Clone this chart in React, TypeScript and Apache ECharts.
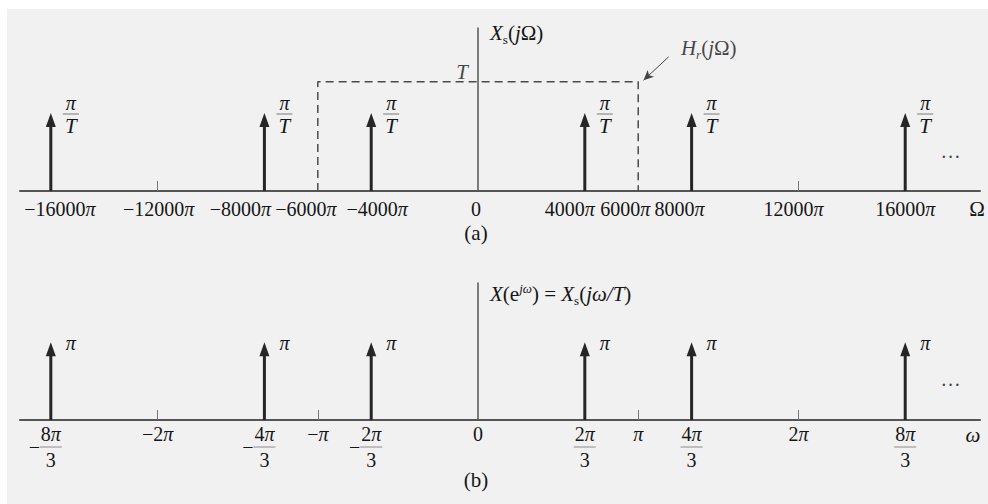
import React, { useEffect, useRef } from "react";
import * as echarts from "echarts";

// Panel (a): Ω axis, values in units of 1000π rad/s
const OMEGA_TICKS = [-16, -12, -8, -6, -4, 0, 4, 6, 8, 12, 16];
const OMEGA_TICK_LABELS = ["−16000π", "−12000π", "−8000π", "−6000π", "−4000π", "0", "4000π", "6000π", "8000π", "12000π", "16000π"];
const OMEGA_MINOR_TICKS = [-12, 12];
const OMEGA_IMPULSES = [-16, -8, -4, 4, 8, 16];
const IMPULSE_HEIGHT_A = 1; // π/T
const HR_CUTOFF = 6; // 6000π
const HR_GAIN = 1.4; // T
const HR_EDGES = [
  [-HR_CUTOFF, 0],
  [-HR_CUTOFF, HR_GAIN],
  [HR_CUTOFF, HR_GAIN],
  [HR_CUTOFF, 0],
];

// Panel (b): ω axis, values in units of π rad
const W_TICKS = [-8 / 3, -2, -4 / 3, -1, -2 / 3, 0, 2 / 3, 1, 4 / 3, 2, 8 / 3];
const W_TICK_LABELS = ["−8π/3", "−2π", "−4π/3", "−π", "−2π/3", "0", "2π/3", "π", "4π/3", "2π", "8π/3"];
const W_MINOR_TICKS = [-2, -1, 1, 2];
const W_IMPULSES = [-8 / 3, -4 / 3, -2 / 3, 2 / 3, 4 / 3, 8 / 3];
const IMPULSE_HEIGHT_B = 1; // π

const INK = "#262626";
const AXIS = "#555555";
const TEXT = "#161616";
const SERIF = '"Liberation Serif", "DejaVu Serif", serif';

// shared horizontal scale: both panels use the same pixel spacing
const A_MIN = -17.154;
const A_MAX = 18.801;
const B_MIN = A_MIN / 6;
const B_MAX = A_MAX / 6;

// horizontal nudges (px) so the crowded Ω labels sit side by side
const OMEGA_LABEL_NUDGE = [9, 1, -24, -12, 6, -2, -15, -13, -12, -5, 0];

function omegaLabel(v: number): string {
  const i = OMEGA_TICKS.findIndex((t) => Math.abs(t - v) < 1e-6);
  if (i < 0) return "";
  const s = OMEGA_TICK_LABELS[i];
  const body = s.endsWith("π") ? `{t|${s.slice(0, -1)}}{tp|π}` : `{t|${s}}`;
  const n = OMEGA_LABEL_NUDGE[i];
  if (n > 0) return `{p${i}| }${body}`;
  if (n < 0) return `${body}{p${i}| }`;
  return body;
}

function omegaNormLabel(v: number): string {
  const i = W_TICKS.findIndex((t) => Math.abs(t - v) < 1e-6);
  if (i < 0) return "";
  let s = W_TICK_LABELS[i];
  const neg = s.startsWith("−");
  if (neg) s = s.slice(1);
  if (s.includes("/")) {
    const [num, den] = s.split("/");
    const digits = num.replace("π", "");
    const top = `{nd|${digits}}{np|π}`;
    if (neg) {
      return [`{sg| }${top}{sg| }`, `{sm|−}{bar| }{sg| }`, `{sg| }{dd|${den}}{sg| }`].join("\n");
    }
    return [top, `{bar| }`, `{dd|${den}}`].join("\n");
  }
  const sign = neg ? "−" : "";
  if (s === "0") return `{t|0}`;
  const digits = s.replace("π", "");
  return `{t|${sign}${digits}}{tp|π}`;
}

const labelRich = (size: number) => {
  const rich: any = {
    t: { fontSize: size, fontFamily: SERIF, color: TEXT, lineHeight: 22 },
    tp: { fontSize: size, fontFamily: SERIF, fontStyle: "italic", color: TEXT, lineHeight: 22 },
    nd: { fontSize: size, fontFamily: SERIF, color: TEXT, lineHeight: 22 },
    np: { fontSize: size, fontFamily: SERIF, fontStyle: "italic", color: TEXT, lineHeight: 22 },
    dd: { fontSize: size, fontFamily: SERIF, color: TEXT, lineHeight: 22 },
    sg: { width: 11, fontSize: 4, lineHeight: 4 },
    sm: { width: 11, fontSize: size, fontFamily: SERIF, color: TEXT, lineHeight: 4, align: "center" },
    bar: { width: 22, height: 1, fontSize: 4, lineHeight: 4, backgroundColor: "#8a8a8a" },
  };
  OMEGA_LABEL_NUDGE.forEach((n, i) => {
    rich[`p${i}`] = { width: Math.abs(n) * 2, fontSize: 4, lineHeight: 22 };
  });
  return rich;
};

const mathRich = (size: number) => ({
  i: { fontFamily: SERIF, fontSize: size, fontStyle: "italic", color: TEXT, lineHeight: size + 4 },
  u: { fontFamily: SERIF, fontSize: size, color: TEXT, lineHeight: size + 4 },
  s: { fontFamily: SERIF, fontSize: Math.round(size * 0.62), color: TEXT, lineHeight: Math.round(size * 0.62), verticalAlign: "bottom" },
  si: { fontFamily: SERIF, fontSize: Math.round(size * 0.62), fontStyle: "italic", color: TEXT, lineHeight: Math.round(size * 0.62), verticalAlign: "bottom" },
  p: { fontFamily: SERIF, fontSize: Math.round(size * 0.62), fontStyle: "italic", color: TEXT, lineHeight: Math.round(size * 0.62), verticalAlign: "top" },
});

function impulseRenderer(kind: "a" | "b") {
  return (_params: any, api: any) => {
    const x = api.value(0);
    const h = api.value(1);
    const [bx, by] = api.coord([x, 0]);
    const [tx, ty] = api.coord([x, h]);
    const children: any[] = [
      { type: "line", shape: { x1: bx, y1: by, x2: tx, y2: ty + 10 }, style: { stroke: INK, lineWidth: 3 } },
      {
        type: "polygon",
        shape: { points: [[tx, ty], [tx - 5, ty + 14], [tx + 5, ty + 14]] },
        style: { fill: INK },
      },
    ];
    const font = { fontFamily: SERIF, fill: TEXT, align: "center", verticalAlign: "middle", fontStyle: "italic" };
    if (kind === "a") {
      children.push(
        { type: "text", x: tx + 20, y: ty - 10, style: { ...font, text: "π", fontSize: 20 } },
        { type: "line", shape: { x1: tx + 12, y1: ty + 1, x2: tx + 28, y2: ty + 1 }, style: { stroke: "#7a7a7a", lineWidth: 1 } },
        { type: "text", x: tx + 20, y: ty + 13, style: { ...font, text: "T", fontSize: 21 } }
      );
    } else {
      children.push({ type: "text", x: tx + 20, y: ty + 1, style: { ...font, text: "π", fontSize: 20 } });
    }
    return { type: "group", children };
  };
}

export default function App() {
  const ref = useRef<HTMLDivElement>(null);

  useEffect(() => {
    if (!ref.current) return;
    const chart = echarts.init(ref.current, null, { renderer: "svg" });

    const option: any = {
      animation: false,
      backgroundColor: "#f1f1f1",
      textStyle: { fontFamily: SERIF, color: TEXT },
      graphic: [
        { type: "rect", shape: { x: 0, y: 0, width: 988, height: 9 }, style: { fill: "#ffffff" }, silent: true },
        { type: "rect", shape: { x: 0, y: 0, width: 7, height: 504 }, style: { fill: "#ffffff" }, silent: true },
        {
          type: "text", x: 476, y: 233,
          style: { text: "(a)", fontFamily: SERIF, fontSize: 21, fill: TEXT, align: "center", verticalAlign: "middle" },
        },
        {
          type: "text", x: 476, y: 480,
          style: { text: "(b)", fontFamily: SERIF, fontSize: 21, fill: TEXT, align: "center", verticalAlign: "middle" },
        },
      ],
      grid: [
        { left: 20, right: 8, top: 28, height: 163, containLabel: false, outerBoundsMode: "none" },
        { left: 20, right: 8, top: 283, height: 137, containLabel: false, outerBoundsMode: "none" },
      ],
      xAxis: [
        {
          type: "value", gridIndex: 0, min: A_MIN, max: A_MAX,
          axisLine: { onZero: true, lineStyle: { color: AXIS, width: 2 } },
          axisTick: { show: true, inside: true, length: 10, customValues: OMEGA_MINOR_TICKS, lineStyle: { color: "#777", width: 1 } },
          axisLabel: {
            customValues: OMEGA_TICKS, formatter: omegaLabel, margin: 7, verticalAlign: "top",
            rich: labelRich(20),
          },
          splitLine: { show: false },
          name: "Ω", nameLocation: "end", nameGap: -3, nameMoveOverlap: false,
          nameTextStyle: { fontFamily: SERIF, fontSize: 21, color: TEXT, align: "center", verticalAlign: "top", padding: [7, 0, 0, 0] },
        },
        {
          type: "value", gridIndex: 1, min: B_MIN, max: B_MAX,
          axisLine: { onZero: true, lineStyle: { color: AXIS, width: 2 } },
          axisTick: { show: true, inside: true, length: 10, customValues: W_MINOR_TICKS, lineStyle: { color: "#777", width: 1 } },
          axisLabel: {
            customValues: W_TICKS, formatter: omegaNormLabel, margin: 3, verticalAlign: "top",
            rich: labelRich(20),
          },
          splitLine: { show: false },
          name: "ω", nameLocation: "end", nameGap: -7, nameMoveOverlap: false,
          nameTextStyle: { fontFamily: SERIF, fontSize: 21, fontStyle: "italic", color: TEXT, align: "center", verticalAlign: "top", padding: [4, 0, 0, 0] },
        },
      ],
      yAxis: [
        {
          type: "value", gridIndex: 0, min: 0, max: 2.09,
          axisLine: { show: true, onZero: true, lineStyle: { color: AXIS, width: 1.5 } },
          axisTick: { show: false },
          axisLabel: { show: false },
          splitLine: { show: false },
          name: "{i|X}{s|s}{u|(}{i|j}{u|Ω)}", nameLocation: "end", nameGap: -5, nameMoveOverlap: false,
          nameTextStyle: { align: "left", verticalAlign: "middle", padding: [0, 0, 0, 12], rich: mathRich(21) },
        },
        {
          type: "value", gridIndex: 1, min: 0, max: 1.76,
          axisLine: { show: true, onZero: true, lineStyle: { color: AXIS, width: 1.5 } },
          axisTick: { show: false },
          axisLabel: { show: false },
          splitLine: { show: false },
          name: "{i|X}{u|(e}{p|jω}{u|) = }{i|X}{s|s}{u|(}{i|jω/T}{u|)}",
          nameLocation: "end", nameGap: -11, nameMoveOverlap: false,
          nameTextStyle: { align: "left", verticalAlign: "middle", padding: [0, 0, 0, 12], rich: mathRich(21) },
        },
      ],
      series: [
        {
          name: "Hr(jΩ)", type: "line", xAxisIndex: 0, yAxisIndex: 0,
          data: HR_EDGES, symbol: "none", silent: true,
          lineStyle: { color: "#4a4a4a", width: 1.5, type: [8, 5] },
          markLine: {
            silent: true, symbol: ["none", "arrow"], symbolSize: [7, 10],
            label: { show: false },
            lineStyle: { type: "solid", color: "#444", width: 1 },
            data: [[{ coord: [7.14, 1.72] }, { coord: [6.2, 1.42] }]],
          },
        },
        {
          name: "Hr label", type: "scatter", xAxisIndex: 0, yAxisIndex: 0,
          data: [[7.6, 1.83]], symbolSize: 0, silent: true,
          label: { show: true, position: "right", distance: 0, formatter: "{i|H}{si|r}{u|(}{i|j}{u|Ω)}", rich: mathRich(21) },
        },
        {
          name: "T level", type: "scatter", xAxisIndex: 0, yAxisIndex: 0,
          data: [[0, HR_GAIN]], symbolSize: 0, silent: true,
          label: {
            show: true, position: "left", distance: 10, offset: [0, -10], formatter: "T",
            fontFamily: SERIF, fontSize: 21, fontStyle: "italic", color: TEXT,
          },
        },
        {
          name: "Xs(jΩ)", type: "custom", xAxisIndex: 0, yAxisIndex: 0, clip: false, silent: true,
          renderItem: impulseRenderer("a"),
          data: OMEGA_IMPULSES.map((w) => [w, IMPULSE_HEIGHT_A]),
        },
        {
          name: "X(e^jω)", type: "custom", xAxisIndex: 1, yAxisIndex: 1, clip: false, silent: true,
          renderItem: impulseRenderer("b"),
          data: W_IMPULSES.map((w) => [w, IMPULSE_HEIGHT_B]),
        },
        {
          name: "continues a", type: "scatter", xAxisIndex: 0, yAxisIndex: 0,
          data: [[17.7, 0.44]], symbolSize: 0, silent: true,
          label: { show: true, position: "inside", formatter: "···", fontFamily: SERIF, fontSize: 20, color: TEXT },
        },
        {
          name: "continues b", type: "scatter", xAxisIndex: 1, yAxisIndex: 1,
          data: [[17.7 / 6, 0.45]], symbolSize: 0, silent: true,
          label: { show: true, position: "inside", formatter: "···", fontFamily: SERIF, fontSize: 20, color: TEXT },
        },
      ],
    };

    chart.setOption(option);
    return () => chart.dispose();
  }, []);

  return (
    <div
      ref={ref}
      style={{ position: "fixed", left: 0, top: 0, width: 988, height: 504 }}
    />
  );
}
